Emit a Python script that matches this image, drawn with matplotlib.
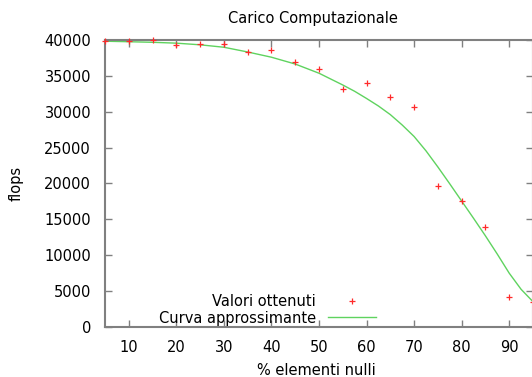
import matplotlib
matplotlib.use("Agg")
import matplotlib.pyplot as plt

# Measured flops per percentage of null elements
perc_nulli = [5, 10, 15, 20, 25, 30, 35, 40, 45, 50, 55, 60, 65, 70, 75, 80, 85, 90, 95]
flops_ottenuti = [39900, 39800, 40050, 39300, 39500, 39500, 38300, 38580, 36900, 35920,
                  33130, 34000, 32000, 30630, 19610, 17520, 13900, 4220, 3530]

# Approximating curve
perc_curva = [5, 10, 15, 20, 25, 30, 35, 40, 45, 50, 55, 57.5, 60, 62.5, 65, 67.5,
              70, 72.5, 75, 77.5, 80, 82.5, 85, 87.5, 90, 92.5, 95]
flops_curva = [39830, 39760, 39680, 39560, 39330, 38990, 38330, 37600, 36650, 35370,
               33730, 32850, 31850, 30800, 29600, 28150, 26550, 24550, 22300, 19950,
               17550, 15150, 12700, 10150, 7500, 5250, 3530]

x_ticks = [10, 20, 30, 40, 50, 60, 70, 80, 90]
y_ticks = [0, 5000, 10000, 15000, 20000, 25000, 30000, 35000, 40000]

plt.rcParams["font.family"] = ["DejaVu Sans"]
FS = 10.5

fig = plt.figure(figsize=(5.32, 3.77), dpi=100)
ax = fig.add_axes([105 / 532, 50 / 377, 428 / 532, 287 / 377])

ax.plot(perc_nulli, flops_ottenuti, linestyle="none", marker="+", color="#ff2a2a",
        markersize=5, markeredgewidth=0.9, label="Valori ottenuti", clip_on=False, zorder=3)
ax.plot(perc_curva, flops_curva, color="#5fd35f", linewidth=1.0,
        label="Curva approssimante", zorder=2)

ax.set_xlim(5, 95)
ax.set_ylim(0, 40000)
ax.set_xticks(x_ticks)
ax.set_yticks(y_ticks)

for sp in ax.spines.values():
    sp.set_color("#808080")
    sp.set_linewidth(1.5)

ax.tick_params(axis="both", which="major", direction="in", length=5, width=1,
               color="#808080", labelsize=FS, top=True, right=True)
ax.tick_params(axis="x", pad=9)
ax.tick_params(axis="y", pad=10)

ax.set_title("Carico Computazionale", fontsize=FS, pad=12, x=0.486)
ax.set_xlabel("% elementi nulli", fontsize=FS, labelpad=6, x=0.494)
ax.set_ylabel("flops", fontsize=FS, labelpad=15)

ax.legend(loc="lower right", bbox_to_anchor=(0.633, 0.005), frameon=False,
          markerfirst=False, fontsize=FS, borderpad=0, handlelength=3.3,
          handletextpad=0.8, labelspacing=0.1, borderaxespad=0)

fig.savefig("out.png", dpi=100)
